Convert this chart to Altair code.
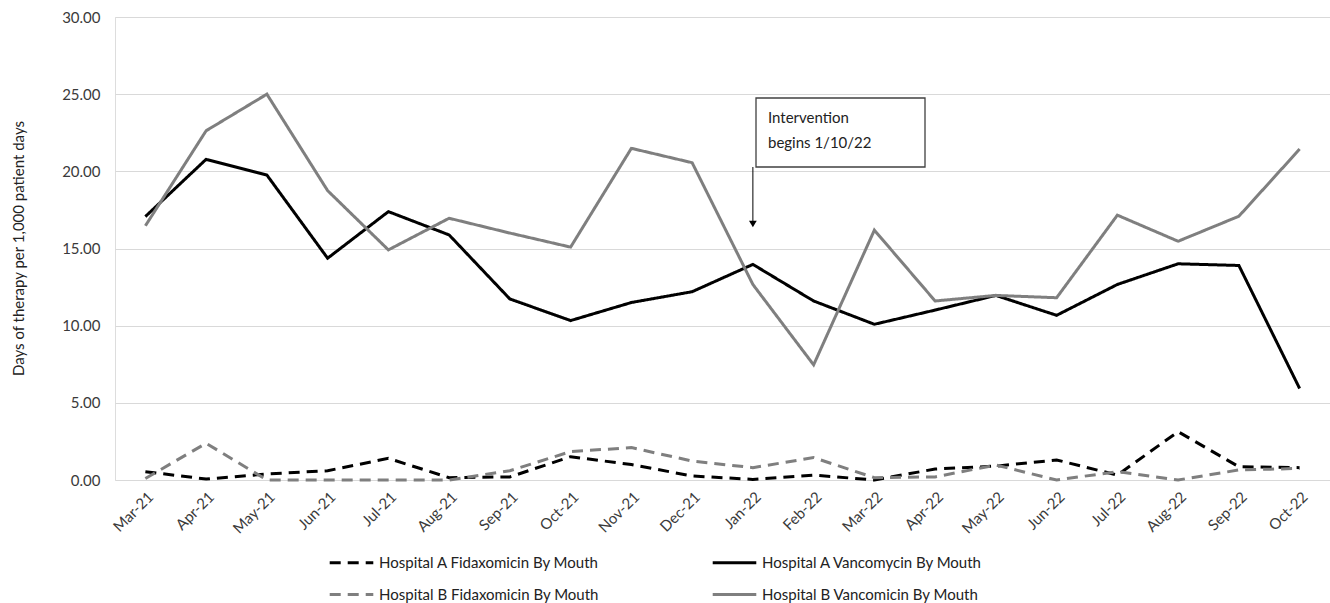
import altair as alt
import pandas as pd

months = ["Mar-21", "Apr-21", "May-21", "Jun-21", "Jul-21", "Aug-21", "Sep-21", "Oct-21",
          "Nov-21", "Dec-21", "Jan-22", "Feb-22", "Mar-22", "Apr-22", "May-22", "Jun-22",
          "Jul-22", "Aug-22", "Sep-22", "Oct-22"]

a_fid = [0.54, 0.06, 0.39, 0.60, 1.40, 0.15, 0.20, 1.51, 1.00, 0.26,
         0.04, 0.32, 0.00, 0.71, 0.90, 1.30, 0.32, 3.13, 0.86, 0.80]
a_vanc = [17.07, 20.78, 19.76, 14.37, 17.39, 15.88, 11.73, 10.33, 11.50, 12.20,
          13.97, 11.60, 10.09, 11.01, 11.96, 10.67, 12.67, 14.01, 13.90, 5.93]
b_fid = [0.10, 2.38, 0.00, 0.00, 0.00, 0.00, 0.60, 1.84, 2.10, 1.23,
         0.80, 1.45, 0.15, 0.20, 0.97, 0.00, 0.54, 0.00, 0.65, 0.75]
b_vanc = [16.47, 22.63, 25.00, 18.75, 14.91, 16.96, 16.00, 15.09, 21.49, 20.56,
          12.67, 7.46, 16.19, 11.60, 11.96, 11.81, 17.16, 15.47, 17.09, 21.44]

series_names = ["Hospital A Fidaxomicin By Mouth", "Hospital A Vancomycin By Mouth",
                "Hospital B Fidaxomicin By Mouth", "Hospital B Vancomicin By Mouth"]
series_colors = ["#000000", "#000000", "#7f7f7f", "#7f7f7f"]
series_dashes = [[11, 7], [1, 0], [11, 7], [1, 0]]

y_ticks = [0, 5, 10, 15, 20, 25, 30]
annotation_lines = ["Intervention", "begins 1/10/22"]
intervention_month = "Jan-22"

rows = []
for name, vals in zip(series_names, [a_fid, a_vanc, b_fid, b_vanc]):
    for i, (m, v) in enumerate(zip(months, vals)):
        rows.append({"month": m, "idx": i, "value": v, "series": name})
df = pd.DataFrame(rows)

FONT = "Lato"

x_enc = alt.X("month:N", sort=months,
              scale=alt.Scale(type="point", padding=0.5, domain=months),
              axis=alt.Axis(title=None, labelAngle=-45, ticks=False, tickSize=0, domain=False,
                            grid=False, labelFontSize=15, labelColor="#3a3a3a",
                            labelPadding=9, labelFont=FONT))
y_enc = alt.Y("value:Q", scale=alt.Scale(domain=[0, 30], nice=False, zero=True),
              axis=alt.Axis(values=y_ticks, format=".2f",
                            title="Days of therapy per 1,000 patient days",
                            titleFontSize=15, titleFontWeight="normal", titleColor="#222222",
                            titleFont=FONT, titleX=-97, titleY=231, titleAngle=270,
                            titleBaseline="middle", titleAlign="center",
                            labelFontSize=15, labelColor="#3a3a3a", labelFont=FONT,
                            labelPadding=15, ticks=False, tickSize=0, domain=False,
                            grid=True, gridColor="#d9d9d9", gridWidth=1))

legend = alt.Legend(title=None, orient="none", legendX=213, legendY=522, columns=2,
                    direction="horizontal", symbolType="stroke", symbolSize=1900,
                    symbolStrokeWidth=3, labelFontSize=15, labelFont=FONT,
                    labelColor="#222222", columnPadding=106, rowPadding=-18,
                    labelOffset=4, labelLimit=400)

lines = alt.Chart(df).mark_line(strokeWidth=3).encode(
    x=x_enc, y=y_enc,
    color=alt.Color("series:N", sort=series_names,
                    scale=alt.Scale(domain=series_names, range=series_colors), legend=legend),
    strokeDash=alt.StrokeDash("series:N", sort=series_names,
                              scale=alt.Scale(domain=series_names, range=series_dashes),
                              legend=legend),
    order=alt.Order("idx:Q"),
)

ann_box = pd.DataFrame({"k": [0]})
box = alt.Chart(ann_box).mark_rect(fill="white", stroke="#404040", strokeWidth=1.3).encode(
    x=alt.value(641), x2=alt.value(810), y=alt.value(81), y2=alt.value(150))

ann_text = pd.DataFrame({"t": annotation_lines, "yy": [101, 126]})
text = alt.Chart(ann_text).mark_text(align="left", baseline="middle", fontSize=15,
                                     font=FONT, color="#222222").encode(
    x=alt.value(653), y=alt.Y("yy:Q", scale=None), text="t:N")

arrow_df = pd.DataFrame({"month": [intervention_month]})
arrow_line = alt.Chart(arrow_df).mark_rule(color="#000000", strokeWidth=1).encode(
    x=alt.X("month:N", sort=months), y=alt.value(150), y2=alt.value(206))
arrow_head = alt.Chart(arrow_df).mark_point(shape="triangle-down", filled=True, size=60,
                                            color="#000000", opacity=1).encode(
    x=alt.X("month:N", sort=months), y=alt.value(207))

chart = alt.layer(lines, box, text, arrow_line, arrow_head).properties(
    width=1215, height=463,
    autosize=alt.AutoSizeParams(type="none"),
    padding={"left": 115, "top": 17, "right": 0, "bottom": 123},
).configure_view(stroke=None).configure(background="white")

chart.save("out.html", embed_options={"renderer": "svg", "actions": False})
